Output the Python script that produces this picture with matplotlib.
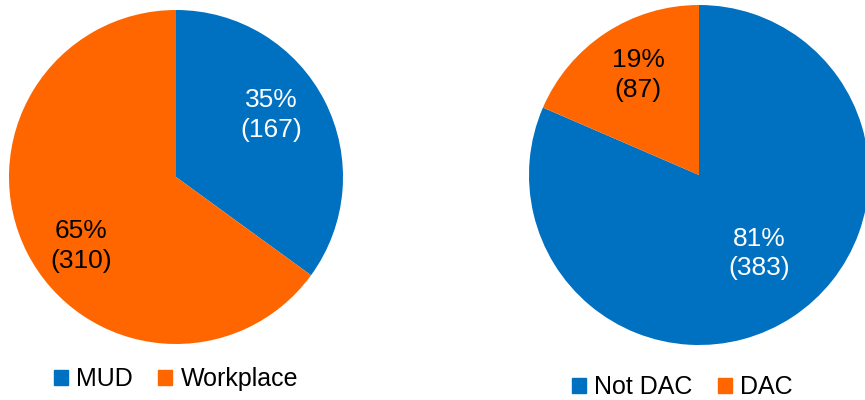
import numpy as np
import matplotlib
matplotlib.use('Agg')
import matplotlib.pyplot as plt
from matplotlib.patches import Patch

# charging site counts
site_labels = ['MUD', 'Workplace']
site_counts = [167, 310]

dac_labels = ['Not DAC', 'DAC']
dac_counts = [383, 87]

BLUE = '#0070C0'
ORANGE = '#FF6600'

plt.rcParams['font.family'] = ['Liberation Sans', 'DejaVu Sans']

W, H = 865, 400
fig = plt.figure(figsize=(W / 100, H / 100), dpi=100)


def pie_axes(cx, cy, r):
    # axes box in pixel terms, centred on (cx, cy) measured from the top-left
    return fig.add_axes([(cx - r) / W, (H - cy - r) / H, 2 * r / W, 2 * r / H])


def draw_pie(ax, counts, label_pos, text_colors):
    wedges, _ = ax.pie(counts, colors=[BLUE, ORANGE], startangle=90,
                       counterclock=False, radius=1,
                       wedgeprops=dict(linewidth=0))
    total = sum(counts)
    for w, n, (dang, rad), tc in zip(wedges, counts, label_pos, text_colors):
        mid = np.deg2rad((w.theta1 + w.theta2) / 2 + dang)
        ax.text(rad * np.cos(mid), rad * np.sin(mid),
                f'{round(100 * n / total)}%\n({n})',
                ha='center', va='center', fontsize=19, color=tc,
                linespacing=1.3)
    ax.set_xlim(-1, 1)
    ax.set_ylim(-1, 1)
    ax.set_aspect('equal')
    ax.axis('off')


ax1 = pie_axes(176, 177, 167)
draw_pie(ax1, site_counts, [(6, 0.68), (9, 0.70)], ['white', 'black'])

ax2 = pie_axes(699, 175, 170)
draw_pie(ax2, dac_counts, [(4, 0.58), (-2, 0.69)], ['white', 'black'])

leg_kw = dict(loc='center left', ncol=2, frameon=False, fontsize=18,
              handlelength=0.55, handleheight=0.55, handletextpad=0.35,
              columnspacing=1.0, borderpad=0, borderaxespad=0)

fig.legend([Patch(color=BLUE), Patch(color=ORANGE)], site_labels,
           bbox_to_anchor=(54 / W, 1 - 379 / H), **leg_kw)
fig.legend([Patch(color=BLUE), Patch(color=ORANGE)], dac_labels,
           bbox_to_anchor=(572 / W, 1 - 387 / H), **leg_kw)

fig.savefig('out.png', dpi=100)
